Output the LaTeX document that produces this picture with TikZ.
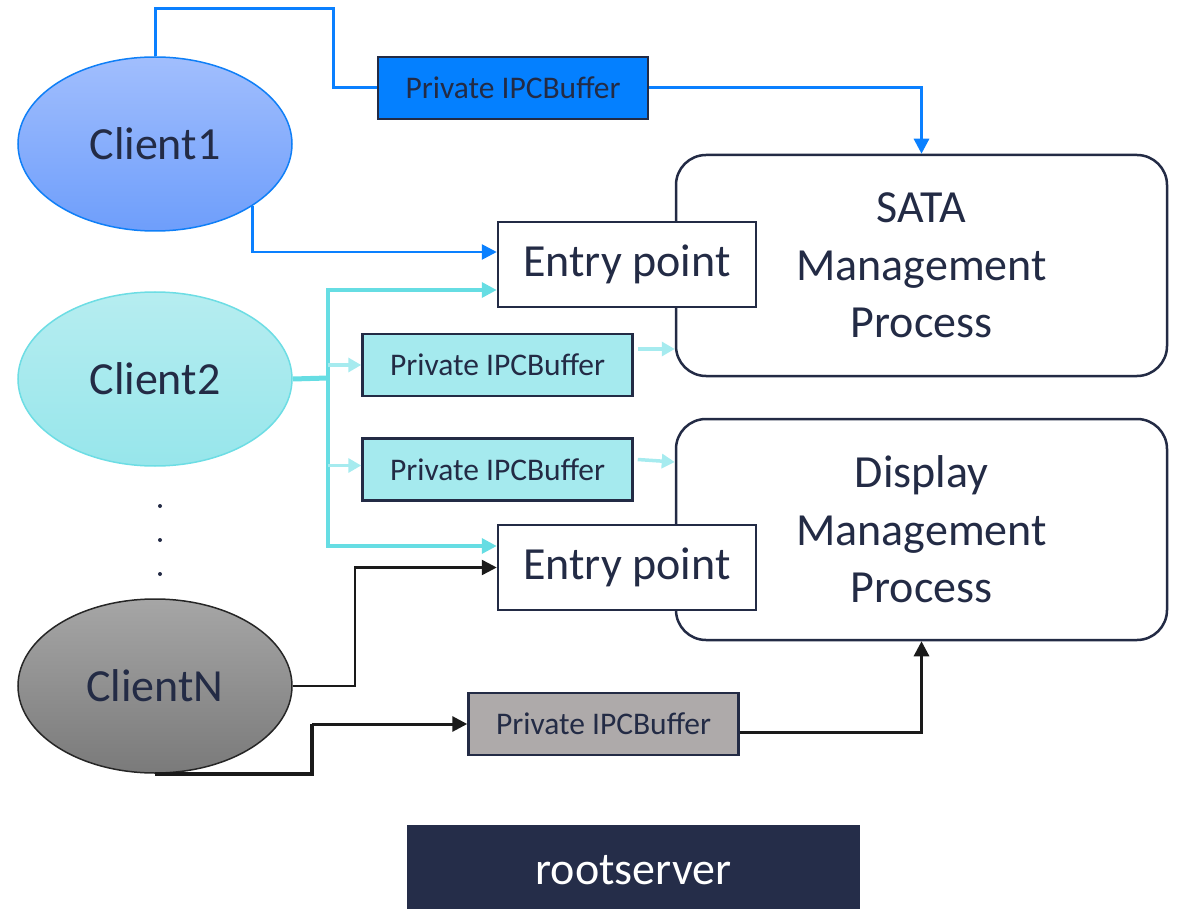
\documentclass[tikz,border=0pt]{standalone}
\usepackage{fontspec}
\setmainfont{Carlito}
\usetikzlibrary{shapes.geometric,arrows.meta,calc}
\definecolor{navy}{RGB}{35,43,69}
\definecolor{bluel}{RGB}{10,128,255}
\definecolor{bluefill}{RGB}{4,128,255}
\definecolor{cyanl}{RGB}{102,221,227}
\definecolor{lcyan}{RGB}{166,235,239}
\definecolor{cyanfill}{RGB}{165,234,238}
\definecolor{grayfill}{RGB}{174,170,170}
\definecolor{blk}{RGB}{26,26,26}
\definecolor{rootfill}{RGB}{37,45,73}
\definecolor{cAtop}{RGB}{161,190,253}
\definecolor{cAbot}{RGB}{110,158,251}
\definecolor{cAbor}{RGB}{15,127,247}
\definecolor{cBtop}{RGB}{182,237,240}
\definecolor{cBbot}{RGB}{151,230,235}
\definecolor{cBbor}{RGB}{109,221,228}
\definecolor{cCtop}{RGB}{166,166,166}
\definecolor{cCbot}{RGB}{122,122,122}
\definecolor{cCbor}{RGB}{38,38,38}
\tikzset{
  client/.style={ellipse, minimum width=274pt, minimum height=174pt, inner sep=0pt, line width=1.5pt, text=navy, font=\fontsize{46}{50}\selectfont},
  buffer/.style={rectangle, draw=navy, line width=2.5pt, minimum width=270pt, minimum height=62pt, inner sep=0pt, text=navy, font=\fontsize{31.5}{34}\selectfont},
  entrybox/.style={rectangle, draw=navy, fill=white, line width=2.5pt, minimum width=258pt, minimum height=85pt, inner sep=0pt, text=navy, font=\fontsize{46}{50}\selectfont},
  procbox/.style={rectangle, rounded corners=30pt, draw=navy, fill=white, line width=2.5pt, minimum width=491pt, minimum height=221pt, inner sep=0pt, text=navy, align=center, font=\fontsize{46}{57.5}\selectfont},
  tipbig/.style={-{Triangle[length=15pt,width=15pt]}},
  blueline/.style={draw=bluel, line width=3pt},
  cyanline/.style={draw=cyanl, line width=3.5pt},
  lcyanline/.style={draw=lcyan, line width=3.5pt, -{Triangle[length=13pt,width=14pt]}},
  blkline/.style={draw=blk, line width=2.5pt},
  blkthick/.style={draw=blk, line width=4pt},
  dotmark/.style={circle, fill=navy, inner sep=0pt, minimum size=4pt}
}
\begin{document}
\begin{tikzpicture}[x=1pt,y=-1pt]
\useasboundingbox (0,0) rectangle (1178,909);
% clients
\node[client, top color=cAtop, bottom color=cAbot, draw=cAbor] (c1) at (155,144) {Client1};
\node[client, top color=cBtop, bottom color=cBbot, draw=cBbor] (c2) at (155,379) {Client2};
\node[client, top color=cCtop, bottom color=cCbot, draw=cCbor] (cN) at (155,686) {ClientN};
\node[dotmark] (d1) at (160,506) {};
\node[dotmark] (d2) at (160,540) {};
\node[dotmark] (d3) at (160,574) {};
% processes
\node[procbox] (sata) at (921.5,265.5) {SATA\\Management\\Process};
\node[procbox] (disp) at (921.5,529.5) {Display\\Management\\Process};
% entry points
\node[entrybox] (ep1) at (627,264.5) {Entry point};
\node[entrybox] (ep2) at (627,567.5) {Entry point};
% buffers
\node[buffer, fill=bluefill] (b1) at (513,88) {Private IPCBuffer};
\node[buffer, fill=cyanfill] (b2) at (497.5,365) {Private IPCBuffer};
\node[buffer, fill=cyanfill] (b3) at (497.5,469.5) {Private IPCBuffer};
\node[buffer, fill=grayfill] (b4) at (603.5,724) {Private IPCBuffer};
% rootserver
\node[rectangle, fill=rootfill, minimum width=453pt, minimum height=90pt, inner sep=0pt, text=white, font=\fontsize{46}{50}\selectfont] (root) at (633.5,870) {rootserver};
% blue connectors
\coordinate (bt) at (333,9);
\draw[blueline] (c1.north) |- (bt) |- (b1.west);
\draw[blueline, tipbig] (b1.east) -| (sata.north);
\draw[blueline, line width=2.7pt, tipbig] (c1.south east) |- ([yshift=12.5pt]ep1.west);
% cyan connectors
\coordinate (j) at (328,378);
\draw[cyanline, line width=5pt] (c2.east) -- (j);
\draw[cyanline, tipbig] (j) |- ([yshift=-25.5pt]ep1.west);
\draw[cyanline, tipbig] (j) |- ([yshift=21.5pt]ep2.west);
\draw[lcyanline] (j |- b2.west) -- (b2.west);
\draw[lcyanline] ([yshift=4pt]j |- b3.west) -- ([yshift=4pt]b3.west);
\draw[lcyanline] ([xshift=4pt,yshift=16pt]b2.east) -- ([yshift=16pt]b2.east -| sata.west);
\draw[lcyanline] ([xshift=4pt,yshift=10pt]b3.east) -- ([yshift=7.5pt]b3.east -| disp.west);
% black connectors
\coordinate (k) at (355,686);
\draw[blkline, tipbig] (cN.east) -- (k) |- (ep2.west);
\coordinate (m) at (312,724);
\draw[blkthick] (cN.south) -| (m);
\draw[blkthick, line width=3pt, tipbig] (m) -- (b4.west);
\draw[blkthick, line width=3pt, tipbig] ([yshift=-8pt]b4.east) -| (disp.south);
\end{tikzpicture}
\end{document}
